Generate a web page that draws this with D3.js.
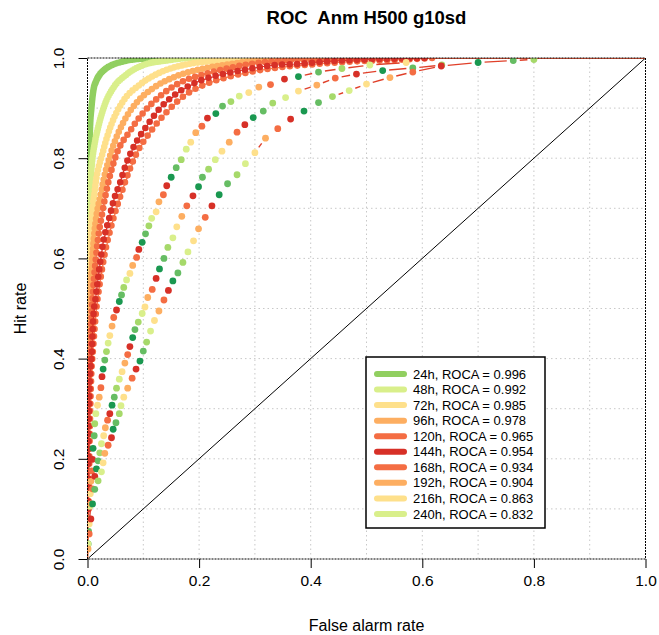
<!DOCTYPE html>
<html>
<head>
<meta charset="utf-8">
<script src="https://cdnjs.cloudflare.com/ajax/libs/d3/7.8.5/d3.min.js"></script>
<style>
    body { margin: 0; background: #fff; }
    text { font-family: "Liberation Sans", Arial, sans-serif; fill: #000; white-space: pre; }
</style>
</head>
<body>
<div id="chart"></div>
<script>
const titleText = "ROC  Anm H500 g10sd";
const xLabel = "False alarm rate";
const yLabel = "Hit rate";

const leadTimes = ["24h", "48h", "72h", "96h", "120h", "144h", "168h", "192h", "216h", "240h"];
const rocaValues = [0.996, 0.992, 0.985, 0.978, 0.965, 0.954, 0.934, 0.904, 0.863, 0.832];
const leadColors = ["#91cf60", "#d9ef8b", "#fee08b", "#fdae61", "#f46d43",
                    "#d73027", "#f46d43", "#fdae61", "#fee08b", "#d9ef8b"];
// colours the sparse curves' points cycle through
const cycleColors = ["#1a9850", "#66bd63", "#a6d96a", "#d9ef8b", "#fee08b", "#fdae61", "#f46d43", "#d73027"];

const axisTicks = [0, 0.2, 0.4, 0.6, 0.8, 1.0];
const gridTicks = [0.1, 0.2, 0.3, 0.4, 0.5, 0.6, 0.7, 0.8, 0.9];

// [false alarm rate, hit rate]
const roc24h = [[0.0005, 0.55], [0.001, 0.62], [0.0015, 0.72], [0.003, 0.80], [0.0045, 0.86], [0.007, 0.90],
    [0.0105, 0.935], [0.016, 0.955], [0.022, 0.967], [0.032, 0.978], [0.046, 0.987], [0.06, 0.992],
    [0.076, 0.996], [0.09, 0.998], [0.106, 0.999], [0.13, 1.0], [0.16, 1.0]];
const roc48h = [[0.001, 0.55], [0.002, 0.65], [0.0045, 0.735], [0.008, 0.79], [0.013, 0.83], [0.019, 0.861],
    [0.031, 0.907], [0.046, 0.94], [0.07, 0.967], [0.1, 0.986], [0.142, 0.995], [0.184, 1.0], [0.22, 1.0]];
const roc72h = [[0.001, 0.45], [0.003, 0.56], [0.006, 0.65], [0.013, 0.735], [0.028, 0.814], [0.043, 0.868],
    [0.064, 0.914], [0.094, 0.947], [0.13, 0.971], [0.172, 0.986], [0.225, 0.994], [0.27, 0.998], [0.31, 1.0]];
const roc96h = [[0.001, 0.4], [0.004, 0.5], [0.01, 0.62], [0.025, 0.735], [0.043, 0.814], [0.064, 0.871],
    [0.088, 0.911], [0.118, 0.94], [0.16, 0.964], [0.2, 0.977], [0.25, 0.987], [0.297, 0.994], [0.35, 0.998], [0.4, 1.0]];
const roc120h = [[0.001, 0.3], [0.004, 0.4], [0.008, 0.5], [0.015, 0.6], [0.028, 0.70], [0.034, 0.735],
    [0.052, 0.808], [0.076, 0.854], [0.10, 0.891], [0.13, 0.924], [0.166, 0.951], [0.208, 0.967],
    [0.25, 0.979], [0.297, 0.989], [0.35, 0.995], [0.42, 0.998], [0.5, 1.0]];
const roc144h = [[0.001, 0.1], [0.002, 0.25], [0.0045, 0.362], [0.0075, 0.408], [0.010, 0.475], [0.015, 0.525],
    [0.021, 0.578], [0.028, 0.631], [0.039, 0.681], [0.048, 0.72], [0.058, 0.75], [0.068, 0.785],
    [0.082, 0.821], [0.106, 0.864], [0.13, 0.90], [0.166, 0.934], [0.20, 0.954], [0.243, 0.968],
    [0.279, 0.976], [0.309, 0.982], [0.336, 0.986], [0.375, 0.988], [0.426, 0.993], [0.5, 0.997], [0.61, 1.0]];
const roc168h = [[0.002, 0.1], [0.004, 0.25], [0.0065, 0.36], [0.010, 0.42], [0.015, 0.49], [0.022, 0.55],
    [0.031, 0.61], [0.044, 0.67], [0.062, 0.735], [0.088, 0.81], [0.113, 0.853], [0.14, 0.89],
    [0.175, 0.926], [0.212, 0.948], [0.255, 0.963], [0.3, 0.974], [0.35, 0.982], [0.4, 0.987],
    [0.46, 0.992], [0.55, 0.996], [0.62, 1.0]];

const roc192h = [[0.001, 0.03], [0.002, 0.055], [0.003, 0.08], [0.004, 0.105], [0.005, 0.13], [0.006, 0.155],
    [0.0075, 0.176], [0.009, 0.199], [0.010, 0.221], [0.012, 0.246], [0.013, 0.270], [0.015, 0.290],
    [0.018, 0.307], [0.021, 0.323], [0.024, 0.342], [0.026, 0.364], [0.028, 0.379], [0.031, 0.397],
    [0.034, 0.414], [0.037, 0.431], [0.040, 0.446], [0.044, 0.465], [0.047, 0.482], [0.052, 0.497],
    [0.057, 0.514], [0.061, 0.527], [0.065, 0.542], [0.070, 0.557], [0.076, 0.570], [0.081, 0.586],
    [0.088, 0.602], [0.092, 0.618], [0.098, 0.632], [0.104, 0.649], [0.110, 0.665], [0.115, 0.680],
    [0.123, 0.693], [0.128, 0.713], [0.136, 0.727], [0.142, 0.745], [0.150, 0.762], [0.159, 0.781],
    [0.168, 0.797], [0.177, 0.818], [0.185, 0.832], [0.194, 0.851], [0.205, 0.864], [0.215, 0.880],
    [0.230, 0.889], [0.242, 0.904], [0.257, 0.913], [0.272, 0.924], [0.289, 0.931], [0.307, 0.942],
    [0.328, 0.947], [0.353, 0.958], [0.378, 0.963], [0.414, 0.972], [0.456, 0.979], [0.506, 0.986],
    [0.571, 0.991]];
const roc216h = [[0.001, 0.03], [0.003, 0.07], [0.006, 0.11], [0.009, 0.14], [0.013, 0.165], [0.016, 0.18],
    [0.019, 0.196], [0.022, 0.212], [0.025, 0.230], [0.029, 0.246], [0.032, 0.262], [0.036, 0.277],
    [0.040, 0.290], [0.044, 0.307], [0.048, 0.323], [0.052, 0.341], [0.057, 0.359], [0.062, 0.374],
    [0.067, 0.391], [0.072, 0.408], [0.076, 0.424], [0.081, 0.442], [0.085, 0.458], [0.091, 0.473],
    [0.098, 0.490], [0.103, 0.503], [0.108, 0.522], [0.116, 0.538], [0.123, 0.560], [0.129, 0.579],
    [0.137, 0.600], [0.144, 0.622], [0.153, 0.641], [0.160, 0.663], [0.169, 0.684], [0.178, 0.705],
    [0.189, 0.725], [0.199, 0.743], [0.206, 0.762], [0.217, 0.778], [0.229, 0.797], [0.241, 0.814],
    [0.254, 0.832], [0.268, 0.852], [0.282, 0.867], [0.297, 0.881], [0.315, 0.894], [0.332, 0.910],
    [0.355, 0.921], [0.378, 0.934], [0.411, 0.946], [0.444, 0.960], [0.482, 0.968], [0.529, 0.975],
    [0.583, 0.980], [0.635, 0.986]];
const roc240h = [[0.001, 0.02], [0.003, 0.05], [0.006, 0.08], [0.009, 0.11], [0.013, 0.139], [0.019, 0.156],
    [0.025, 0.174], [0.028, 0.192], [0.031, 0.211], [0.037, 0.227], [0.043, 0.242], [0.046, 0.259],
    [0.051, 0.272], [0.057, 0.290], [0.060, 0.306], [0.065, 0.323], [0.072, 0.341], [0.080, 0.361],
    [0.087, 0.379], [0.094, 0.395], [0.100, 0.415], [0.106, 0.433], [0.113, 0.455], [0.120, 0.476],
    [0.128, 0.495], [0.137, 0.517], [0.145, 0.536], [0.153, 0.555], [0.162, 0.571], [0.171, 0.592],
    [0.180, 0.613], [0.190, 0.635], [0.199, 0.659], [0.211, 0.682], [0.223, 0.705], [0.236, 0.727],
    [0.251, 0.749], [0.268, 0.767], [0.283, 0.789], [0.300, 0.811], [0.319, 0.840], [0.341, 0.859],
    [0.364, 0.878], [0.388, 0.894], [0.414, 0.911], [0.439, 0.923], [0.469, 0.935], [0.500, 0.948],
    [0.542, 0.961], [0.583, 0.972], [0.634, 0.984], [0.70, 0.991], [0.763, 0.995], [0.80, 0.997]];

const denseCurves = [roc24h, roc48h, roc72h, roc96h, roc120h, roc168h, roc144h];
const denseLeadIdx = [0, 1, 2, 3, 4, 6, 5];
const sparseCurves = [roc192h, roc216h, roc240h];

const W = 659, H = 635;
const x = d3.scaleLinear().domain([0, 1]).range([87.5, 645.5]);
const y = d3.scaleLinear().domain([0, 1]).range([559, 58]);

const svg = d3.select("#chart").append("svg").attr("width", W).attr("height", H);

svg.append("clipPath").attr("id", "plotClip").append("rect")
    .attr("x", x(0)).attr("y", y(1)).attr("width", x(1) - x(0)).attr("height", y(0) - y(1));

// grid
const grid = svg.append("g").attr("stroke", "#c8c8c8").attr("stroke-width", 1).attr("stroke-dasharray", "1.5 3");
grid.selectAll("line.gx").data(gridTicks).enter().append("line")
    .attr("x1", d => x(d)).attr("x2", d => x(d)).attr("y1", y(0)).attr("y2", y(1));
grid.selectAll("line.gy").data(gridTicks).enter().append("line")
    .attr("y1", d => y(d)).attr("y2", d => y(d)).attr("x1", x(0)).attr("x2", x(1));

const plot = svg.append("g").attr("clip-path", "url(#plotClip)");

// diagonal
plot.append("line")
    .attr("x1", x(0)).attr("y1", y(0)).attr("x2", x(1)).attr("y2", y(1))
    .attr("stroke", "#000").attr("stroke-width", 1);

const lineThin = d3.line().x(d => x(d[0])).y(d => y(d[1]));
const lineSmooth = d3.line().x(d => x(d[0])).y(d => y(d[1])).curve(d3.curveMonotoneX);
const dotGap = [1.5, 2.5, 4, 5, 6.5, 7.5, 7.5];

denseCurves.forEach((pts, i) => {
    const col = leadColors[denseLeadIdx[i]];
    plot.append("path")
        .attr("d", lineThin([[0, 0]].concat(pts, [[1, 1]])))
        .attr("fill", "none").attr("stroke", col).attr("stroke-width", 1.2);
    plot.append("path")
        .attr("d", lineSmooth(pts))
        .attr("fill", "none").attr("stroke", col)
        .attr("stroke-width", 6.6).attr("stroke-linecap", "round")
        .attr("stroke-dasharray", "0 " + dotGap[i]);
});

// sparse curves: points with broken connecting lines (like R type="b")
const cycleOffset = [0, 3, 5];
sparseCurves.forEach((pts, i) => {
    const gap = 6.5;
    const segs = [];
    for (let k = 1; k < pts.length; k++) {
        const x0 = x(pts[k - 1][0]), y0 = y(pts[k - 1][1]);
        const x1 = x(pts[k][0]), y1 = y(pts[k][1]);
        const L = Math.hypot(x1 - x0, y1 - y0);
        if (L > 2 * gap + 4) {
            const ux = (x1 - x0) / L, uy = (y1 - y0) / L;
            segs.push([x0 + ux * gap, y0 + uy * gap, x1 - ux * gap, y1 - uy * gap]);
        }
    }
    plot.append("g").selectAll("line").data(segs).enter().append("line")
        .attr("x1", d => d[0]).attr("y1", d => d[1]).attr("x2", d => d[2]).attr("y2", d => d[3])
        .attr("stroke", "#e0402a").attr("stroke-width", 1.4);
    plot.append("g").selectAll("circle").data(pts).enter().append("circle")
        .attr("cx", d => x(d[0])).attr("cy", d => y(d[1])).attr("r", 3.4)
        .attr("fill", (d, k) => cycleColors[(k + cycleOffset[i]) % cycleColors.length]);
});

// frame
svg.append("rect")
    .attr("x", x(0)).attr("y", y(1)).attr("width", x(1) - x(0)).attr("height", y(0) - y(1))
    .attr("fill", "none").attr("stroke", "#000").attr("stroke-width", 1).attr("stroke-dasharray", "2 1");

// axes
const fmt = d3.format(".1f");
const gx = svg.append("g").attr("transform", `translate(0,${y(0)})`)
    .call(d3.axisBottom(x).tickValues(axisTicks).tickFormat(fmt).tickSize(9).tickSizeOuter(0));
gx.select(".domain").remove();
gx.selectAll("text").attr("y", 22).attr("dy", "0.35em").attr("font-size", 15.5);

const gy = svg.append("g").attr("transform", `translate(${x(0)},0)`)
    .call(d3.axisLeft(y).tickValues(axisTicks).tickFormat(fmt).tickSize(9).tickSizeOuter(0));
gy.select(".domain").remove();
gy.selectAll("text")
    .attr("transform", "rotate(-90)")
    .attr("x", 0).attr("y", -29).attr("dy", "0.35em")
    .attr("text-anchor", "middle").attr("font-size", 15.5);
svg.selectAll(".tick line").attr("stroke", "#000");
svg.selectAll(".tick text").attr("fill", "#000").attr("font-family", "Liberation Sans, Arial, sans-serif");

// titles
svg.append("text").attr("x", (x(0) + x(1)) / 2).attr("y", 18).attr("dy", "0.35em")
    .attr("text-anchor", "middle").attr("font-weight", "bold").attr("font-size", 18.5).text(titleText);
svg.append("text").attr("x", (x(0) + x(1)) / 2).attr("y", 625).attr("dy", "0.35em")
    .attr("text-anchor", "middle").attr("font-size", 16).text(xLabel);
svg.append("text").attr("transform", `translate(20,${(y(0) + y(1)) / 2}) rotate(-90)`).attr("dy", "0.35em")
    .attr("text-anchor", "middle").attr("font-size", 16).text(yLabel);

// legend
const legend = svg.append("g").attr("transform", "translate(366,357)");
legend.append("rect").attr("width", 179).attr("height", 171)
    .attr("fill", "#fff").attr("stroke", "#000").attr("stroke-width", 1.5);
const rowH = 15.55;
const rows = legend.selectAll("g.row").data(leadTimes).enter().append("g")
    .attr("transform", (d, i) => `translate(0,${17 + i * rowH})`);
rows.append("line").attr("x1", 11).attr("x2", 38)
    .attr("stroke", (d, i) => leadColors[i]).attr("stroke-width", 6).attr("stroke-linecap", "round");
rows.append("text").attr("x", 47).attr("dy", "0.35em").attr("font-size", 13)
    .text((d, i) => d + ", ROCA = " + d3.format(".3f")(rocaValues[i]));
</script>
</body>
</html>
